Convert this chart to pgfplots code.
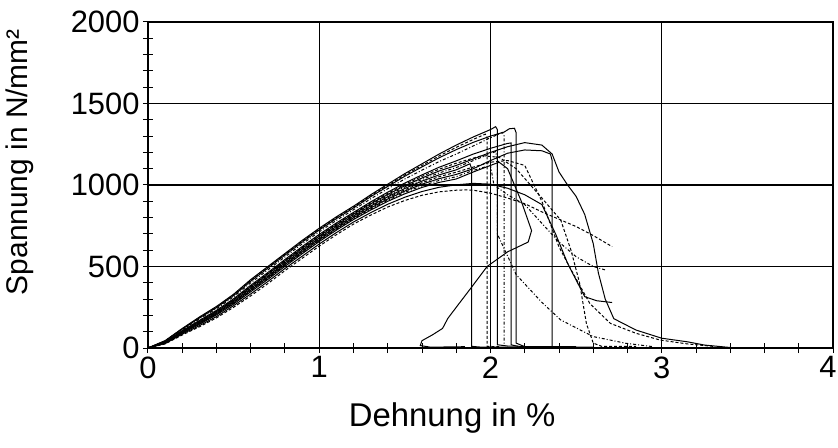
\documentclass[border=0pt]{standalone}
\usepackage{fontspec}
\setmainfont{Liberation Sans}
\usepackage{pgfplots}
\pgfplotsset{compat=1.18}
\pgfplotsset{curve/.style={black, line width=1bp, mark=none}}

\begin{document}
\begin{tikzpicture}
\begin{axis}[
    scale only axis,
    width=685bp, height=326bp,
    xmin=0, xmax=4, ymin=0, ymax=2000,
    xtick={0,1,2,3,4},
    xticklabels={0,1,2,3,\hspace*{-10bp}4},
    ytick={0,500,1000,1500,2000},
    minor x tick num=4,
    minor y tick num=4,
    tick pos=left,
    tick align=center,
    major tick length=10bp,
    minor tick length=10bp,
    tick style={black, line width=1bp},
    grid=major,
    grid style={black, line width=1.2bp},
    axis line style={black, line width=1.2bp},
    /pgf/number format/assume math mode=true,
    /pgf/number format/1000 sep={},
    scaled ticks=false,
    ticklabel style={font=\fontsize{31}{31}\selectfont},
    xlabel={Dehnung in \%},
    ylabel={Spannung in N/mm²},
    xlabel style={font=\fontsize{33}{33}\selectfont, at={(axis description cs:0.444,-0.215)}, anchor=center},
    ylabel style={font=\fontsize{30}{30}\selectfont, at={(axis description cs:-0.187,0.57)}, anchor=center},
    clip=true,
]
% A
\addplot[curve] coordinates {(0,0)(0.1,45)(0.2,120)(0.3,190)(0.4,255)(0.5,330)(0.6,420)(0.7,500)(0.8,580)(0.9,660)(1.0,735)(1.1,805)(1.2,870)(1.3,940)(1.4,1005)(1.5,1070)(1.6,1130)(1.7,1190)(1.8,1245)(1.9,1295)(2.0,1340)(2.03,1358)(2.04,1340)(2.04,20)(2.1,12)(2.2,10)};
% L
\addplot[curve, densely dashed] coordinates {(0,0)(0.1,44)(0.2,118)(0.3,187)(0.4,252)(0.5,326)(0.6,415)(0.7,495)(0.8,575)(0.9,655)(1.0,730)(1.1,800)(1.2,865)(1.3,934)(1.4,998)(1.5,1062)(1.6,1120)(1.7,1178)(1.8,1231)(1.9,1280)(1.97,1312)(1.98,1290)(1.98,10)(2.05,8)};
% B
\addplot[curve] coordinates {(0,0)(0.1,43)(0.2,116)(0.3,184)(0.4,248)(0.5,322)(0.6,410)(0.7,490)(0.8,570)(0.9,649)(1.0,724)(1.1,794)(1.2,859)(1.3,928)(1.4,991)(1.5,1054)(1.6,1111)(1.7,1167)(1.8,1217)(1.9,1262)(2.0,1300)(2.08,1325)(2.11,1345)(2.14,1348)(2.15,1320)(2.15,30)(2.2,8)(2.5,8)};
% C
\addplot[curve, dash dot] coordinates {(0,0)(0.1,41)(0.2,112)(0.3,178)(0.4,241)(0.5,314)(0.6,400)(0.7,479)(0.8,559)(0.9,638)(1.0,713)(1.1,783)(1.2,848)(1.3,915)(1.4,977)(1.5,1037)(1.6,1091)(1.7,1144)(1.8,1190)(1.9,1240)(2.0,1290)(2.07,1322)(2.08,1300)(2.08,15)};
% D
\addplot[curve] coordinates {(0,0)(0.1,38)(0.2,106)(0.3,169)(0.4,231)(0.5,302)(0.6,385)(0.7,463)(0.8,543)(0.9,622)(1.0,697)(1.1,767)(1.2,832)(1.3,896)(1.4,956)(1.5,1012)(1.6,1062)(1.7,1109)(1.8,1148)(1.9,1190)(2.0,1225)(2.1,1255)(2.12,1258)(2.12,20)(2.16,10)};
% M
\addplot[curve, densely dashed] coordinates {(0,0)(0.1,37)(0.2,104)(0.3,166)(0.4,227)(0.5,298)(0.6,380)(0.7,458)(0.8,538)(0.9,616)(1.0,691)(1.1,761)(1.2,826)(1.3,890)(1.4,949)(1.5,1004)(1.6,1053)(1.7,1097)(1.8,1134)(1.9,1165)(1.95,1180)(2.05,1170)(2.15,1100)(2.3,920)(2.41,785)(2.47,600)(2.52,400)(2.56,150)(2.6,30)(2.65,10)(2.85,10)};
% E
\addplot[curve] coordinates {(0,0)(0.1,36)(0.2,102)(0.3,163)(0.4,224)(0.5,294)(0.6,375)(0.7,453)(0.8,533)(0.9,611)(1.0,686)(1.1,756)(1.2,821)(1.3,884)(1.4,942)(1.5,996)(1.6,1043)(1.7,1086)(1.8,1120)(1.9,1160)(2.0,1200)(2.1,1235)(2.2,1260)(2.3,1245)(2.36,1190)(2.4,1080)(2.45,1000)(2.5,930)(2.55,820)(2.6,640)(2.63,460)(2.67,300)(2.72,180)(2.85,110)(3.0,60)(3.15,38)(3.25,18)(3.4,3)};
% O
\addplot[curve, dash dot] coordinates {(0,0)(0.1,35)(0.2,100)(0.3,160)(0.4,220)(0.5,290)(0.6,370)(0.7,448)(0.8,528)(0.9,605)(1.0,680)(1.1,750)(1.2,815)(1.3,878)(1.4,935)(1.5,988)(1.6,1034)(1.7,1074)(1.8,1107)(1.9,1150)(2.03,1205)(2.04,1150)(2.04,700)(2.15,450)(2.3,280)(2.41,172)(2.6,70)(2.79,29)(2.95,8)};
% F
\addplot[curve] coordinates {(0,0)(0.1,34)(0.2,98)(0.3,157)(0.4,217)(0.5,286)(0.6,365)(0.7,442)(0.8,522)(0.9,600)(1.0,675)(1.1,745)(1.2,810)(1.3,871)(1.4,928)(1.5,979)(1.6,1024)(1.7,1062)(1.8,1093)(1.88,1130)(1.89,1100)(1.89,10)(1.95,5)(2.1,5)};
% P
\addplot[curve, densely dashed] coordinates {(0,0)(0.1,33)(0.2,96)(0.3,154)(0.4,213)(0.5,282)(0.6,360)(0.7,437)(0.8,517)(0.9,594)(1.0,669)(1.1,739)(1.2,804)(1.3,865)(1.4,921)(1.5,971)(1.6,1014)(1.7,1051)(1.8,1079)(1.9,1110)(2.0,1140)(2.1,1150)(2.2,1120)(2.3,900)(2.4,620)(2.46,500)(2.58,273)(2.7,151)(2.85,90)(2.99,49)(3.15,25)(3.3,10)};
% G
\addplot[curve] coordinates {(0,0)(0.1,32)(0.2,94)(0.3,151)(0.4,210)(0.5,278)(0.6,355)(0.7,432)(0.8,512)(0.9,589)(1.0,664)(1.1,734)(1.2,799)(1.3,859)(1.4,914)(1.5,963)(1.6,1005)(1.7,1039)(1.8,1065)(1.9,1100)(2.0,1150)(2.1,1195)(2.2,1215)(2.3,1210)(2.35,1190)(2.36,1150)(2.36,5)(2.6,5)};
% N
\addplot[curve, dash dot] coordinates {(0,0)(0.1,31)(0.2,92)(0.3,148)(0.4,206)(0.5,274)(0.6,350)(0.7,427)(0.8,507)(0.9,583)(1.0,658)(1.1,728)(1.2,793)(1.3,852)(1.4,907)(1.5,955)(1.6,995)(1.7,1028)(1.8,1051)(1.9,1090)(2.0,1120)(2.02,1000)(2.1,940)(2.2,880)(2.4,650)(2.5,560)(2.6,500)(2.67,479)};
% H
\addplot[curve] coordinates {(0,0)(0.1,30)(0.2,90)(0.3,145)(0.4,203)(0.5,270)(0.6,345)(0.7,421)(0.8,501)(0.9,578)(1.0,653)(1.1,723)(1.2,788)(1.3,846)(1.4,900)(1.5,946)(1.6,985)(1.7,1016)(1.8,1037)(1.9,1080)(2.0,1120)(2.05,1140)(2.1,1100)(2.18,900)(2.24,720)(2.22,650)(2.1,590)(1.98,500)(1.88,360)(1.8,250)(1.75,180)(1.72,120)(1.66,80)(1.6,45)(1.59,15)(1.65,5)(1.85,8)};
% K
\addplot[curve] coordinates {(0,0)(0.1,27)(0.2,85)(0.3,137)(0.4,193)(0.5,260)(0.6,332)(0.7,408)(0.8,488)(0.9,563)(1.0,638)(1.1,708)(1.2,773)(1.3,830)(1.4,882)(1.5,925)(1.6,960)(1.7,986)(1.8,1001)(1.9,1010)(2.0,1005)(2.1,980)(2.2,940)(2.3,880)(2.38,700)(2.45,520)(2.5,417)(2.55,315)(2.62,290)(2.71,279)};
% Z
\addplot[curve, densely dashed] coordinates {(0,0)(0.1,25)(0.2,80)(0.3,130)(0.4,185)(0.5,250)(0.6,320)(0.7,395)(0.8,475)(0.9,550)(1.0,625)(1.1,695)(1.2,760)(1.3,815)(1.4,865)(1.5,905)(1.6,937)(1.7,958)(1.8,968)(1.85,970)(1.9,968)(2.0,950)(2.1,920)(2.2,885)(2.3,835)(2.4,790)(2.5,745)(2.6,690)(2.71,622)};
\end{axis}
\pgfresetboundingbox
\useasboundingbox (-148bp,-100bp) rectangle (690bp,348bp);
\end{tikzpicture}
\end{document}
